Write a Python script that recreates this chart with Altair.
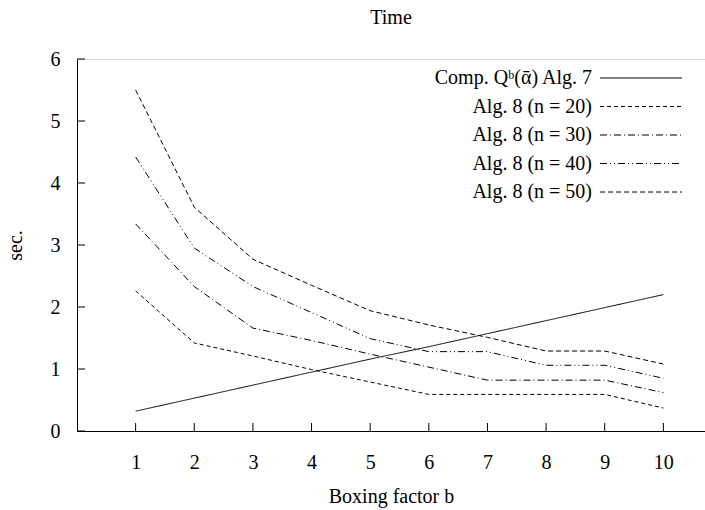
import altair as alt
import pandas as pd

# ---- data ----
b_values = [1, 2, 3, 4, 5, 6, 7, 8, 9, 10]
comp_alg7 = [0.32, 0.53, 0.74, 0.95, 1.16, 1.36, 1.57, 1.78, 1.99, 2.20]
alg8_n20 = [2.26, 1.42, 1.21, 0.99, 0.79, 0.59, 0.59, 0.59, 0.59, 0.37]
alg8_n30 = [3.34, 2.33, 1.66, 1.46, 1.24, 1.03, 0.82, 0.82, 0.82, 0.62]
alg8_n40 = [4.42, 2.95, 2.33, 1.91, 1.49, 1.28, 1.28, 1.06, 1.06, 0.85]
alg8_n50 = [5.50, 3.61, 2.77, 2.35, 1.94, 1.71, 1.51, 1.29, 1.29, 1.08]

series_names = [
    "Comp. Qᵇ(ᾱ) Alg. 7",
    "Alg. 8 (n = 20)",
    "Alg. 8 (n = 30)",
    "Alg. 8 (n = 40)",
    "Alg. 8 (n = 50)",
]
series_values = [comp_alg7, alg8_n20, alg8_n30, alg8_n40, alg8_n50]
dash_styles = [[1, 0], [4, 3], [7, 3, 1, 3], [7, 3, 1, 3, 1, 3], [5, 3]]

x_ticks = [1, 2, 3, 4, 5, 6, 7, 8, 9, 10]
y_ticks = [0, 1, 2, 3, 4, 5, 6]

rows = []
for name, vals in zip(series_names, series_values):
    for b, v in zip(b_values, vals):
        rows.append({"b": b, "sec": v, "series": name})
df = pd.DataFrame(rows)
xt = pd.DataFrame({"b": x_ticks})
yt = pd.DataFrame({"sec": y_ticks})
leg = pd.DataFrame({"series": series_names})

FONT = "Liberation Serif"
FS = 20
W, H = 628, 372

x_scale = alt.Scale(domain=[0, 10.71], nice=False, zero=False)
y_scale = alt.Scale(domain=[0, 6], nice=False)
dash_scale = alt.Scale(domain=series_names, range=dash_styles)
legend_row_scale = alt.Scale(type="point", domain=series_names, range=[19, 133], padding=0)

x_axis = alt.Axis(
    values=x_ticks, format="d", title="Boxing factor b", ticks=False, tickSize=0,
    grid=False, labelPadding=31, labelBaseline="middle",
    labelFont=FONT, labelFontSize=FS, labelColor="black",
    titleFont=FONT, titleFontSize=FS, titleFontWeight="normal", titleColor="black",
    titleX=W / 2, titleY=65, titleBaseline="middle", titleAlign="center",
    domainColor="black", domainWidth=1, labelFlush=False,
)
y_axis = alt.Axis(
    values=y_ticks, format="d", title="sec.", ticks=False, tickSize=0,
    grid=False, labelPadding=17, labelBaseline="middle",
    labelFont=FONT, labelFontSize=FS, labelColor="black",
    titleFont=FONT, titleFontSize=FS, titleFontWeight="normal", titleColor="black",
    titleX=-62, titleY=H / 2, titleAngle=270, titleBaseline="middle", titleAlign="center",
    domainColor="black", domainWidth=1, labelFlush=False,
)

lines = alt.Chart(df).mark_line(color="black", strokeWidth=1).encode(
    x=alt.X("b:Q", scale=x_scale, axis=x_axis),
    y=alt.Y("sec:Q", scale=y_scale, axis=y_axis),
    strokeDash=alt.StrokeDash("series:N", scale=dash_scale, legend=None),
)

x_tick_marks = alt.Chart(xt).mark_rule(color="black", strokeWidth=1).encode(
    x=alt.X("b:Q", scale=x_scale),
    y=alt.value(H),
    y2=alt.value(H - 8),
)
y_tick_marks = alt.Chart(yt).mark_rule(color="black", strokeWidth=1).encode(
    y=alt.Y("sec:Q", scale=y_scale, axis=None),
    x=alt.value(0),
    x2=alt.value(8),
)

# gnuplot-style key: label on the left, line sample on the right
legend_lines = alt.Chart(leg).mark_rule(color="black", strokeWidth=1).encode(
    y=alt.Y("series:N", scale=legend_row_scale, axis=None),
    x=alt.value(523),
    x2=alt.value(605),
    strokeDash=alt.StrokeDash("series:N", scale=dash_scale, legend=None),
)
legend_text = alt.Chart(leg).mark_text(
    align="right", baseline="middle", font=FONT, fontSize=FS, color="black"
).encode(
    y=alt.Y("series:N", scale=legend_row_scale, axis=None),
    x=alt.value(515),
    text=alt.Text("series:N"),
)

chart = alt.layer(lines, x_tick_marks, y_tick_marks, legend_lines, legend_text).resolve_scale(
    y="independent"
).properties(
    width=W, height=H,
    title=alt.TitleParams("Time", font=FONT, fontSize=FS, fontWeight="normal",
                          color="black", anchor="middle", offset=21),
    autosize=alt.AutoSizeParams(type="none"),
    padding={"left": 77, "top": 59, "right": 0, "bottom": 79},
).configure_view(stroke=None).configure(background="white")

chart.save("out.html", embed_options={"renderer": "svg", "actions": False})
